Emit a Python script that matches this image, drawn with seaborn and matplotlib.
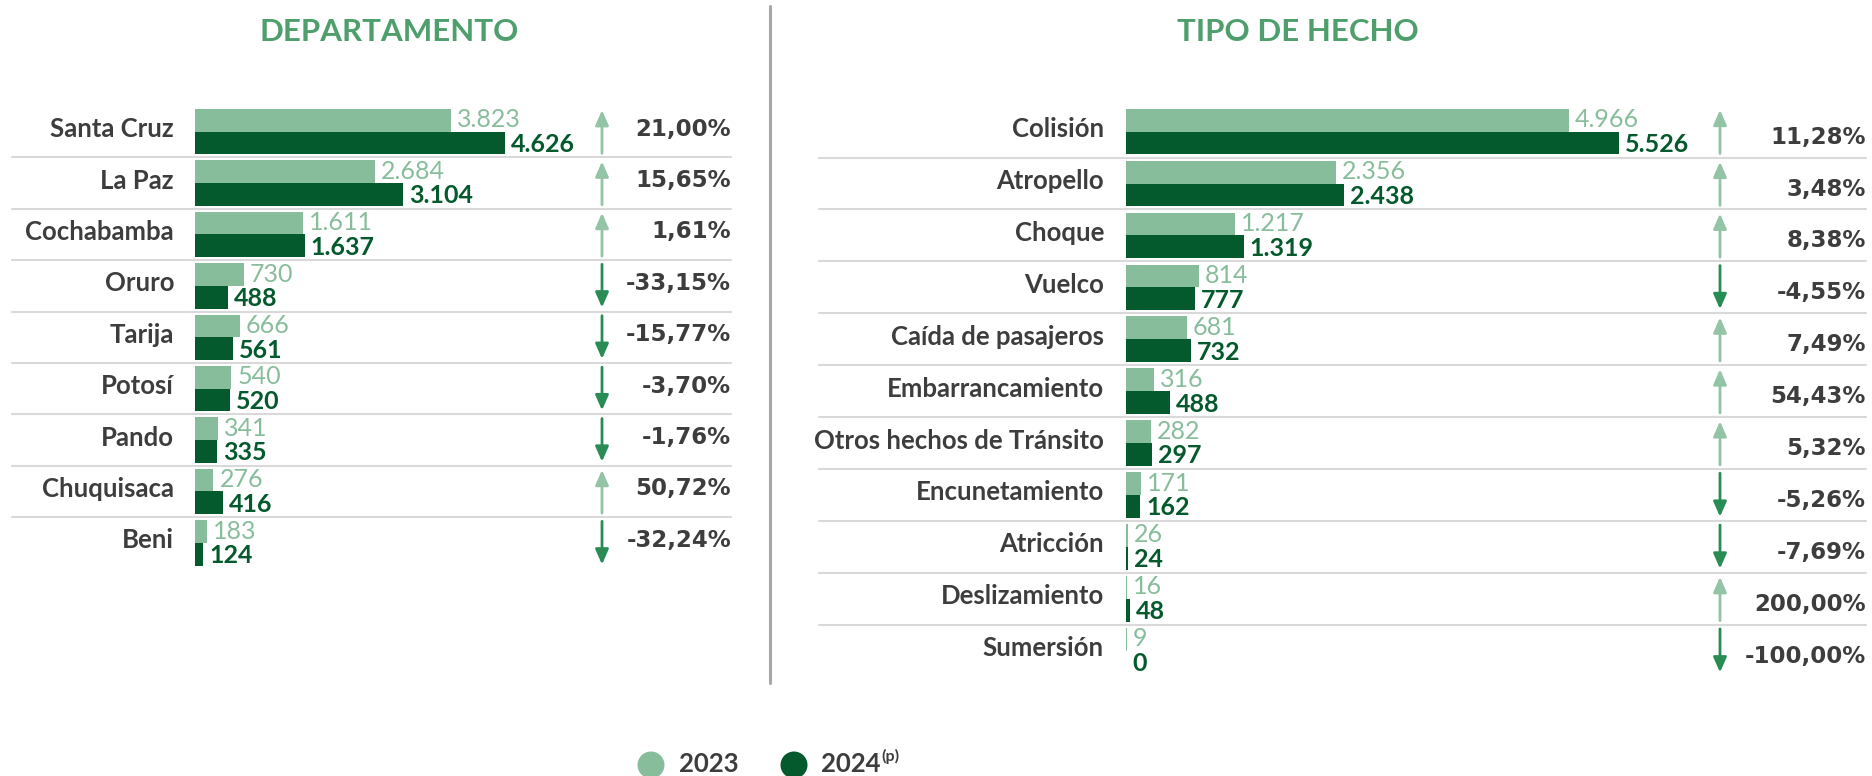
import matplotlib
matplotlib.use("Agg")
import matplotlib.pyplot as plt
import seaborn as sns
import pandas as pd
from matplotlib import transforms
from matplotlib.lines import Line2D
from matplotlib.patches import Ellipse

# ---------------- data ----------------
dep_names = ["Santa Cruz", "La Paz", "Cochabamba", "Oruro", "Tarija",
             "Potosí", "Pando", "Chuquisaca", "Beni"]
dep_2023 = [3823, 2684, 1611, 730, 666, 540, 341, 276, 183]
dep_2024 = [4626, 3104, 1637, 488, 561, 520, 335, 416, 124]
dep_pct = ["21,00%", "15,65%", "1,61%", "-33,15%", "-15,77%", "-3,70%",
           "-1,76%", "50,72%", "-32,24%"]

tipo_names = ["Colisión", "Atropello", "Choque", "Vuelco", "Caída de pasajeros",
              "Embarrancamiento", "Otros hechos de Tránsito", "Encunetamiento",
              "Atricción", "Deslizamiento", "Sumersión"]
tipo_2023 = [4966, 2356, 1217, 814, 681, 316, 282, 171, 26, 16, 9]
tipo_2024 = [5526, 2438, 1319, 777, 732, 488, 297, 162, 24, 48, 0]
tipo_pct = ["11,28%", "3,48%", "8,38%", "-4,55%", "7,49%", "54,43%", "5,32%",
            "-5,26%", "-7,69%", "200,00%", "-100,00%"]

years = ["2023", "2024"]
titles = ["DEPARTAMENTO", "TIPO DE HECHO"]

# ---------------- style ----------------
C23 = "#88BD9C"
C24 = "#045A2C"
UP = "#93C4A5"
DOWN = "#2A8C55"
TXT = "#3D3D3D"
TITLE = "#4F9F6C"
SEP = "#D9D9D9"
FONT = "Lato"

sns.set_theme(style="white")
plt.rcParams["font.family"] = [FONT, "DejaVu Sans"]
PCT_FONT = ["DejaVu Sans"]

W, H, DPI = 1872, 776, 100
fig = plt.figure(figsize=(W / DPI, H / DPI), dpi=DPI)
fig.patch.set_facecolor("white")
PX = transforms.Affine2D().scale(1, -1).translate(0, H)


def fmt(v):
    return f"{v:,}".replace(",", ".")


def panel(names, v23, v24, pct, x0, x1, scale, top, row, label_right,
          arrow_x, pct_right, sep_left, pct_dy):
    n = len(names)
    ax = fig.add_axes([x0 / W, 1 - (top + n * row) / H, (x1 - x0) / W, n * row / H])
    df = pd.DataFrame({"cat": names * 2, "valor": v23 + v24,
                       "anio": [years[0]] * n + [years[1]] * n})
    sns.barplot(data=df, x="valor", y="cat", hue="anio", hue_order=years,
                order=names, orient="h", palette=[C23, C24], width=0.88, gap=0,
                saturation=1, linewidth=0, ax=ax, legend=False)
    ax.set_xlim(0, (x1 - x0) / scale)
    ax.set_ylim(n - 0.5, -0.5)
    ax.axis("off")
    xpx = transforms.blended_transform_factory(transforms.IdentityTransform(), ax.transData)

    for i, name in enumerate(names):
        # category label
        ax.annotate(name, xy=(label_right, i), xycoords=xpx, xytext=(0, -5.5),
                    textcoords="offset pixels", ha="right", va="baseline",
                    fontsize=18.5, fontweight="bold", color=TXT, annotation_clip=False)
        # values
        ax.annotate(fmt(v23[i]), xy=(v23[i], i - 0.22), xytext=(6, -7),
                    textcoords="offset pixels", ha="left", va="baseline",
                    fontsize=18, fontweight="normal", color=C23, annotation_clip=False)
        ax.annotate(fmt(v24[i]), xy=(v24[i], i + 0.22), xytext=(6, -9),
                    textcoords="offset pixels", ha="left", va="baseline",
                    fontsize=18, fontweight="bold", color=C24, annotation_clip=False)
        # arrow
        up = v24[i] >= v23[i]
        tip, tail = (i - 0.42, i + 0.42) if up else (i + 0.42, i - 0.42)
        ax.annotate("", xy=(arrow_x, tip), xycoords=xpx, xytext=(arrow_x, tail),
                    textcoords=xpx, annotation_clip=False,
                    arrowprops=dict(arrowstyle="-|>,head_length=0.5,head_width=0.22",
                                    mutation_scale=18, lw=2.0, color=UP if up else DOWN,
                                    shrinkA=0, shrinkB=0))
        # percent
        ax.annotate(pct[i], xy=(pct_right, i), xycoords=xpx, xytext=(0, -pct_dy),
                    textcoords="offset pixels", ha="right", va="baseline",
                    fontsize=16.5, fontweight="bold", color=TXT, family=PCT_FONT,
                    annotation_clip=False)
        # separator
        if i < n - 1:
            ax.add_line(Line2D([sep_left, pct_right], [i + 0.5, i + 0.5], transform=xpx,
                               color=SEP, lw=1.5, clip_on=False))
    return ax


panel(dep_names, dep_2023, dep_2024, dep_pct, x0=195, x1=560, scale=310 / 4626,
      top=106.0, row=51.4, label_right=174, arrow_x=602, pct_right=731,
      sep_left=12, pct_dy=4)
panel(tipo_names, tipo_2023, tipo_2024, tipo_pct, x0=1126, x1=1700, scale=493 / 5526,
      top=105.7, row=51.9, label_right=1104, arrow_x=1720, pct_right=1866,
      sep_left=819, pct_dy=12)

# titles
fig.text(389, 41, titles[0], transform=PX, ha="center", va="baseline",
         fontsize=22.5, fontweight="bold", color=TITLE)
fig.text(1298, 41, titles[1], transform=PX, ha="center", va="baseline",
         fontsize=22.5, fontweight="bold", color=TITLE)

# vertical divider
fig.add_artist(Line2D([770, 770], [6, 683], transform=PX, color="#A8A8A8", lw=2.2))

# legend
for cx, col in [(651, C23), (794, C24)]:
    fig.add_artist(Ellipse((cx, 765), 27, 27, transform=PX, color=col, lw=0))
fig.text(679, 772, years[0], transform=PX, ha="left", va="baseline",
         fontsize=18.5, fontweight="bold", color=TXT)
fig.text(821, 772, years[1], transform=PX, ha="left", va="baseline",
         fontsize=18.5, fontweight="bold", color=TXT)
fig.text(881, 761, "(p)", transform=PX, ha="left", va="baseline",
         fontsize=11.5, fontweight="bold", color=TXT)

fig.savefig("out.png", dpi=DPI, facecolor="white")
